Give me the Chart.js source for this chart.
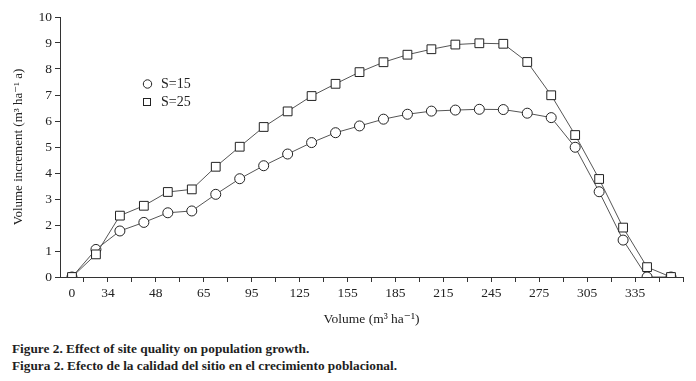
<!DOCTYPE html>
<html>
<head>
<meta charset="utf-8">
<script src="https://cdn.jsdelivr.net/npm/chart.js@4/dist/chart.umd.min.js"></script>
<style>
body { margin: 0; background: #fff; }
#wrap { position: relative; width: 696px; height: 335px; }
.cap { font-family: "Liberation Serif", serif; font-weight: bold; font-size: 13.3px; color: #1e1e1e; margin-left: 12px; line-height: 17px; }
#capTop { margin-top: 5px; }
</style>
</head>
<body>
<div id="wrap"><canvas id="growthChart"></canvas></div>
<div class="cap" id="capTop">Figure 2. Effect of site quality on population growth.</div>
<div class="cap">Figura 2. Efecto de la calidad del sitio en el crecimiento poblacional.</div>
<script>
// values, one per sample along the volume axis
const s15 = [0, 1.06, 1.77, 2.1, 2.47, 2.54, 3.18, 3.78, 4.28, 4.73, 5.17, 5.55, 5.81, 6.07,
    6.26, 6.38, 6.42, 6.45, 6.44, 6.3, 6.13, 4.99, 3.28, 1.42, 0, 0];
const s25 = [0, 0.87, 2.36, 2.74, 3.27, 3.37, 4.24, 5.01, 5.77, 6.37, 6.96, 7.43, 7.88, 8.26,
    8.55, 8.76, 8.94, 8.99, 8.97, 8.27, 6.99, 5.46, 3.77, 1.9, 0.38, 0];
const xTickLabels = ['0', '34', '48', '65', '95', '125', '155', '185', '215', '245', '275', '305', '335'];
const seriesNames = ['S=15', 'S=25'];

const serif = '"Liberation Serif", "DejaVu Serif", serif';
const ink = '#222';

// label positions: "0" sits on the first point, the rest sit on every other tick mark
const labelAt = {};
xTickLabels.forEach((lab, i) => {
    labelAt[i === 0 ? 0 : 2 * i - 0.5] = lab;
});
const tickValues = [0];
for (let t = 0.5; t <= s15.length - 0.5; t++) tickValues.push(t);

const toPoints = arr => arr.map((v, i) => ({ x: i, y: v }));

// little legend drawn inside the plot
const insideLegend = {
    id: 'insideLegend',
    afterDraw(chart) {
        const ctx = chart.ctx;
        ctx.save();
        ctx.strokeStyle = ink;
        ctx.fillStyle = '#fff';
        ctx.lineWidth = 1;
        ctx.beginPath();
        ctx.arc(147.5, 84, 4.2, 0, Math.PI * 2);
        ctx.fill();
        ctx.stroke();
        ctx.strokeRect(143.5, 98.5, 7, 7);
        ctx.fillStyle = ink;
        ctx.font = '14px ' + serif;
        ctx.textBaseline = 'middle';
        ctx.fillText(seriesNames[0], 161, 84);
        ctx.fillText(seriesNames[1], 161, 102);
        ctx.restore();
    }
};

const ctx = document.getElementById('growthChart').getContext('2d');
new Chart(ctx, {
    type: 'line',
    data: {
        datasets: [{
            label: seriesNames[0],
            data: toPoints(s15),
            order: 1,
            borderColor: '#555',
            borderWidth: 1,
            pointStyle: 'circle',
            pointRadius: 5,
            pointBackgroundColor: '#fff',
            pointBorderColor: ink,
            pointBorderWidth: 1,
            tension: 0
        }, {
            label: seriesNames[1],
            data: toPoints(s25),
            order: 0,
            borderColor: '#555',
            borderWidth: 1,
            pointStyle: 'rect',
            pointRadius: 6.2,
            pointBackgroundColor: '#fff',
            pointBorderColor: ink,
            pointBorderWidth: 1,
            tension: 0
        }]
    },
    options: {
        responsive: true,
        maintainAspectRatio: false,
        animation: false,
        layout: { padding: { top: 17, right: 13, left: 0, bottom: 0 } },
        plugins: {
            legend: { display: false },
            tooltip: { enabled: false }
        },
        scales: {
            x: {
                type: 'linear',
                min: -0.5,
                max: s15.length - 0.5,
                afterBuildTicks: scale => {
                    scale.ticks = tickValues.map(v => ({ value: v }));
                },
                afterFit: scale => { scale.height = 58; },
                ticks: {
                    autoSkip: false,
                    maxRotation: 0,
                    padding: 3,
                    color: ink,
                    font: { family: serif, size: 13.5 },
                    callback: v => labelAt[v] !== undefined ? labelAt[v] : ''
                },
                grid: {
                    drawOnChartArea: false,
                    tickLength: 5,
                    tickColor: c => (c.tick && c.tick.value === 0) ? 'rgba(0,0,0,0)' : '#333'
                },
                border: { color: '#333', width: 1 },
                title: {
                    display: true,
                    text: 'Volume (m³ ha⁻¹)',
                    color: ink,
                    font: { family: serif, size: 13.5 },
                    padding: { top: 0, bottom: 7 }
                }
            },
            y: {
                min: 0,
                max: 10,
                afterFit: scale => { scale.width = 60; },
                ticks: {
                    stepSize: 1,
                    padding: 3,
                    color: ink,
                    font: { family: serif, size: 13.5 }
                },
                grid: {
                    drawOnChartArea: false,
                    tickLength: 5,
                    tickColor: '#333'
                },
                border: { color: '#333', width: 1 },
                title: {
                    display: true,
                    text: 'Volume increment (m³ ha⁻¹ a)',
                    color: ink,
                    font: { family: serif, size: 13 },
                    padding: { top: 11, bottom: 0 }
                }
            }
        }
    },
    plugins: [insideLegend]
});
</script>
</body>
</html>
